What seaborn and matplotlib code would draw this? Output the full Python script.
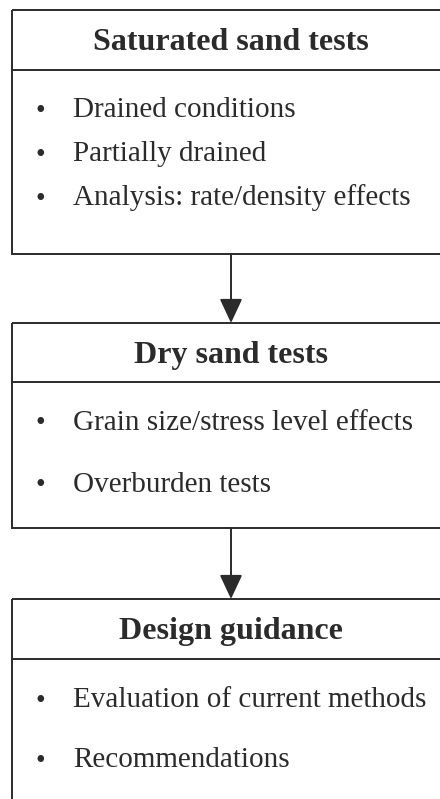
import matplotlib
matplotlib.use("Agg")
import matplotlib.pyplot as plt
import seaborn as sns

# flowchart content
titles = ["Saturated sand tests", "Dry sand tests", "Design guidance"]
bullets = [
    ["Drained conditions", "Partially drained", "Analysis: rate/density effects"],
    ["Grain size/stress level effects", "Overburden tests"],
    ["Evaluation of current methods", "Recommendations"],
]

# layout in pixel units (y grows downward)
box_top = [10, 323, 599]
box_sep = [70, 382, 659]
box_bottom = [254, 528, 815]
title_y = [42, 355, 632]
bullet_y = [[110, 154, 198], [423, 485], [700, 760]]
left, right = 12, 452
arrow_x = 231

ink = "#2b2b2b"

sns.set_theme(style="white")
plt.rcParams["font.family"] = ["Liberation Serif", "DejaVu Serif"]

fig = plt.figure(figsize=(4.4, 7.99), dpi=100)
ax = fig.add_axes([0, 0, 1, 1])
ax.set_xlim(0, 440)
ax.set_ylim(799, 0)
ax.axis("off")

for i, title in enumerate(titles):
    ax.add_patch(plt.Rectangle((left, box_top[i]), right - left, box_bottom[i] - box_top[i],
                               fill=False, edgecolor=ink, linewidth=1.4))
    ax.plot([left, right], [box_sep[i], box_sep[i]], color=ink, linewidth=1.4)
    ax.text(arrow_x, title_y[i], title, ha="center", va="center",
            fontsize=23, fontweight="bold", color=ink)
    for txt, y in zip(bullets[i], bullet_y[i]):
        ax.text(40, y + 1, "\u2022", ha="center", va="center", fontsize=20, color=ink)
        ax.text(73, y, txt, ha="left", va="center", fontsize=21, color=ink)

# arrows between boxes
for i in range(len(titles) - 1):
    ax.annotate("", xy=(arrow_x, box_top[i + 1]), xytext=(arrow_x, box_bottom[i]),
                arrowprops=dict(arrowstyle="-|>,head_length=0.75,head_width=0.35",
                                color=ink, linewidth=1.4, shrinkA=0, shrinkB=0,
                                mutation_scale=20))

fig.savefig("out.png", dpi=100)
